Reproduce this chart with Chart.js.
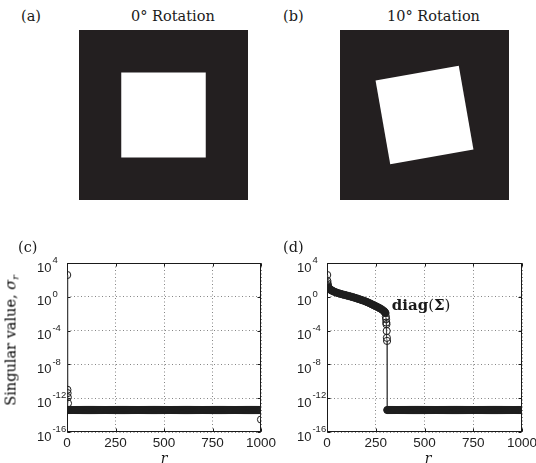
<!DOCTYPE html>
<html>
<head>
<meta charset="utf-8">
<script src="https://cdn.jsdelivr.net/npm/chart.js@4/dist/chart.umd.min.js"></script>
<style>
  html, body { margin: 0; padding: 0; background: #fff; }
  #page { position: relative; width: 536px; height: 463px; overflow: hidden; }
  #page canvas { position: absolute; }
  .txt {
    position: absolute; white-space: nowrap; color: #1a1a1a;
    font-family: 'DejaVu Serif', serif; font-size: 14.5px; line-height: 18px;
  }
  .ylab { left: -87px; top: 329px; width: 200px; text-align: center; font-size: 14.5px; color: #000; transform: rotate(-90deg); }
  .ylab sub { font-size: 9.5px; vertical-align: -3px; font-style: italic; }
  .rlab { width: 40px; text-align: center; top: 449px; font-style: italic; font-size: 14px; }
</style>
</head>
<body>
<div id="page">
  <div class="txt" style="left:21px; top:7px;">(a)</div>
  <div class="txt" style="left:131px; top:7px;">0° Rotation</div>
  <div class="txt" style="left:283px; top:7px;">(b)</div>
  <div class="txt" style="left:387px; top:7px;">10° Rotation</div>

  <canvas id="img-a" width="169" height="170" style="left:79px; top:30px; width:169px; height:170px;"></canvas>
  <canvas id="img-b" width="169" height="170" style="left:340px; top:30px; width:169px; height:170px;"></canvas>

  <canvas id="sv-c" width="285" height="243" style="left:0; top:220px; width:285px; height:243px;"></canvas>
  <canvas id="sv-d" width="268" height="243" style="left:268px; top:220px; width:268px; height:243px;"></canvas>

  <div class="txt" style="left:18px; top:238px;">(c)</div>
  <div class="txt" style="left:283px; top:238px;">(d)</div>
  <div class="txt ylab">Singular value, <i>σ</i><sub>r</sub></div>
  <div class="txt rlab" style="left:144px;">r</div>
  <div class="txt rlab" style="left:408px;">r</div>
</div>

<script>
// ── Data ──────────────────────────────────────────────────────────────────
// Square image, unrotated (a) and turned 10 degrees (b)
const rotationsDeg = [0, 10];
const holeFraction = 0.5;           // white square side / frame side

// Axis ticks shared by both spectra
const rTicks        = [0, 250, 500, 750, 1000];
const rTickLabels   = ['0', '250', '500', '750', '1000'];
const sigmaTicks    = [1e4, 1e0, 1e-4, 1e-8, 1e-12, 1e-16];
const sigmaTickExps = ['4', '0', '-4', '-8', '-12', '-16'];

// (c) unrotated: one real singular value, the rest at round-off
const rHeadC     = [1, 2, 3, 4, 5];
const sigmaHeadC = [380, 1e-11, 4e-12, 1.3e-12, 2.5e-13];
const floorRangeC = [6, 999];
const floorSigmaC = 4e-14;
const rTailC     = [1000];
const sigmaTailC = [3e-15];

// (d) rotated: steep first few, slow decay up to r ~ 300, then the drop
const rTopD     = [1, 2, 3, 4, 5];
const sigmaTopD = [380, 75, 40, 25, 18];
const rCurveD = [7, 10, 15, 20, 25, 30, 40, 50, 60, 70, 80, 90, 100,
                 110, 120, 130, 140, 150, 160, 170, 180, 190, 200, 210, 220, 230, 240,
                 250, 260, 270, 280, 290, 295, 300];
const sigmaCurveD = [13, 10, 8, 6.5, 5.5, 4.8, 3.8, 3.1, 2.6, 2.2, 1.9, 1.65, 1.45,
                     1.25, 1.1, 0.95, 0.8, 0.68, 0.57, 0.48, 0.4, 0.33, 0.27, 0.215, 0.17, 0.13, 0.1,
                     0.078, 0.06, 0.045, 0.033, 0.022, 0.017, 0.012];
const rDropD     = [302, 303, 304, 305, 306, 307, 308];
const sigmaDropD = [0.0045, 0.0022, 9e-4, 5.6e-4, 9e-5, 1.4e-5, 6e-6];
const floorRangeD = [309, 1000];
const floorSigmaD = 4e-14;

const diagLabelAt = { r: 332, sigma: 0.028 };

// ── Style ─────────────────────────────────────────────────────────────────
const FRAME = '#231f20';
const INK   = '#1a1a1a';
const MARK  = '#1e1e1e';
const LINE  = '#444';
const GRID  = '#666';
const TICK  = 3;
const FLOOR_STEP = 5;

// ── Helpers ───────────────────────────────────────────────────────────────
// solid = point sits inside a dense run, where the circles merge into a band
function toPoints(rs, sigmas, solid) { return rs.map((r, i) => ({ x: r, y: sigmas[i], solid: !!solid })); }

// plateau of equal singular values at the round-off floor
function floorPoints(range, sigma) {
  const pts = [];
  for (let r = range[0]; r < range[1]; r += FLOOR_STEP) pts.push({ x: r, y: sigma, solid: true });
  pts.push({ x: range[1], y: sigma, solid: true });
  return pts;
}

const noInteraction = { animation: false, responsive: false, events: [] };

// ── Image panels ─────────────────────────────────────────────────────────
// black frame with a white square, turned counter-clockwise by `angle`
const squareImagePlugin = {
  id: 'squareImage',
  beforeDatasetsDraw(chart, args, opts) {
    const { ctx, chartArea: a, scales: { x, y } } = chart;
    ctx.save();
    ctx.fillStyle = FRAME;
    ctx.fillRect(a.left, a.top, a.right - a.left, a.bottom - a.top);

    const t = opts.angle * Math.PI / 180;
    const h = holeFraction / 2;
    ctx.fillStyle = '#fff';
    ctx.beginPath();
    [[-h, -h], [h, -h], [h, h], [-h, h]].forEach(([u, v], i) => {
      const px = x.getPixelForValue(0.5 + u * Math.cos(t) - v * Math.sin(t));
      const py = y.getPixelForValue(0.5 + u * Math.sin(t) + v * Math.cos(t));
      if (i) ctx.lineTo(px, py); else ctx.moveTo(px, py);
    });
    ctx.closePath();
    ctx.fill();
    ctx.restore();
  }
};

function drawSquarePanel(id, angle) {
  new Chart(document.getElementById(id), {
    type: 'scatter',
    data: { datasets: [] },
    options: {
      ...noInteraction,
      layout: { padding: 0 },
      scales: {
        x: { display: false, min: 0, max: 1 },
        y: { display: false, min: 0, max: 1 }
      },
      plugins: {
        legend: { display: false },
        tooltip: { enabled: false },
        squareImage: { angle }
      }
    },
    plugins: [squareImagePlugin]
  });
}

// ── Spectra ──────────────────────────────────────────────────────────────
// box, inward ticks and the 10^n labels
const axesPlugin = {
  id: 'axesBox',
  beforeDatasetsDraw(chart) {
    const { ctx, chartArea: a, scales: { x, y } } = chart;
    const L = Math.round(a.left) + 0.5, R = Math.round(a.right) - 0.5;
    const T = Math.round(a.top) + 0.5, B = Math.round(a.bottom) - 0.5;
    ctx.save();
    ctx.strokeStyle = INK;
    ctx.lineWidth = 1;
    ctx.strokeRect(L, T, R - L, B - T);

    ctx.beginPath();
    rTicks.forEach(v => {
      const px = Math.round(x.getPixelForValue(v)) + 0.5;
      ctx.moveTo(px, B); ctx.lineTo(px, B - TICK);
      ctx.moveTo(px, T); ctx.lineTo(px, T + TICK);
    });
    sigmaTicks.forEach(v => {
      const py = Math.round(y.getPixelForValue(v)) + 0.5;
      ctx.moveTo(L, py); ctx.lineTo(L + TICK, py);
      ctx.moveTo(R, py); ctx.lineTo(R - TICK, py);
    });
    ctx.stroke();

    ctx.fillStyle = '#222';
    ctx.textBaseline = 'middle';
    ctx.textAlign = 'center';
    ctx.font = '13.5px "Liberation Sans", Arial, sans-serif';
    rTicks.forEach((v, i) => ctx.fillText(rTickLabels[i], x.getPixelForValue(v), a.bottom + 11));

    ctx.textAlign = 'left';
    sigmaTicks.forEach((v, i) => {
      const py = y.getPixelForValue(v);
      const lx = a.left - 30;
      ctx.font = '13px "Liberation Sans", Arial, sans-serif';
      ctx.fillText('10', lx, py + 5);
      const w = ctx.measureText('10').width;
      ctx.font = '9.5px "Liberation Sans", Arial, sans-serif';
      ctx.fillText(sigmaTickExps[i], lx + w + 1, py - 2.5);
    });
    ctx.restore();
  }
};

// "diag(Σ)" next to the end of the decay in (d)
const diagLabelPlugin = {
  id: 'diagLabel',
  afterDatasetsDraw(chart) {
    const { ctx, scales: { x, y } } = chart;
    let px = x.getPixelForValue(diagLabelAt.r);
    const py = y.getPixelForValue(diagLabelAt.sigma);
    const parts = [['diag', 'bold'], ['(', 'normal'], ['\u03A3', 'bold'], [')', 'normal']];
    ctx.save();
    ctx.fillStyle = INK;
    ctx.textBaseline = 'alphabetic';
    ctx.textAlign = 'left';
    parts.forEach(([s, weight]) => {
      ctx.font = `${weight} 15px "DejaVu Serif", serif`;
      ctx.fillText(s, px, py);
      px += ctx.measureText(s).width;
    });
    ctx.restore();
  }
};

function drawSpectrum(id, points, padding, extra) {
  const fixedTicks = vals => scale => { scale.ticks = vals.map(v => ({ value: v })); };
  const gridOpts = { color: GRID, lineWidth: 0.8, drawTicks: false };
  new Chart(document.getElementById(id), {
    type: 'line',
    data: {
      datasets: [{
        data: points,
        borderColor: LINE,
        borderWidth: 0.8,
        tension: 0,
        pointRadius: 3.6,
        pointBorderWidth: 1,
        pointBorderColor: MARK,
        pointBackgroundColor: ctx => (ctx.raw && ctx.raw.solid ? MARK : 'rgba(0,0,0,0)')
      }]
    },
    options: {
      ...noInteraction,
      layout: { padding },
      scales: {
        x: {
          type: 'linear', min: 0, max: 1000,
          afterBuildTicks: fixedTicks(rTicks),
          ticks: { display: false },
          grid: gridOpts,
          border: { display: false, dash: [1, 2.5] }
        },
        y: {
          type: 'logarithmic', min: 1e-16, max: 1e4,
          afterBuildTicks: fixedTicks(sigmaTicks),
          ticks: { display: false },
          grid: gridOpts,
          border: { display: false, dash: [1, 2.5] }
        }
      },
      plugins: { legend: { display: false }, tooltip: { enabled: false } }
    },
    plugins: [axesPlugin, ...(extra || [])]
  });
}

// ── Draw ─────────────────────────────────────────────────────────────────
drawSquarePanel('img-a', rotationsDeg[0]);
drawSquarePanel('img-b', rotationsDeg[1]);

drawSpectrum('sv-c',
  [...toPoints(rHeadC, sigmaHeadC),
   ...floorPoints(floorRangeC, floorSigmaC),
   ...toPoints(rTailC, sigmaTailC)],
  { left: 67, top: 43, right: 24, bottom: 31 });

drawSpectrum('sv-d',
  [...toPoints(rTopD, sigmaTopD),
   ...toPoints(rCurveD, sigmaCurveD, true),
   ...toPoints(rDropD, sigmaDropD),
   ...floorPoints(floorRangeD, floorSigmaD)],
  { left: 59, top: 43, right: 14, bottom: 31 },
  [diagLabelPlugin]);
</script>
</body>
</html>
